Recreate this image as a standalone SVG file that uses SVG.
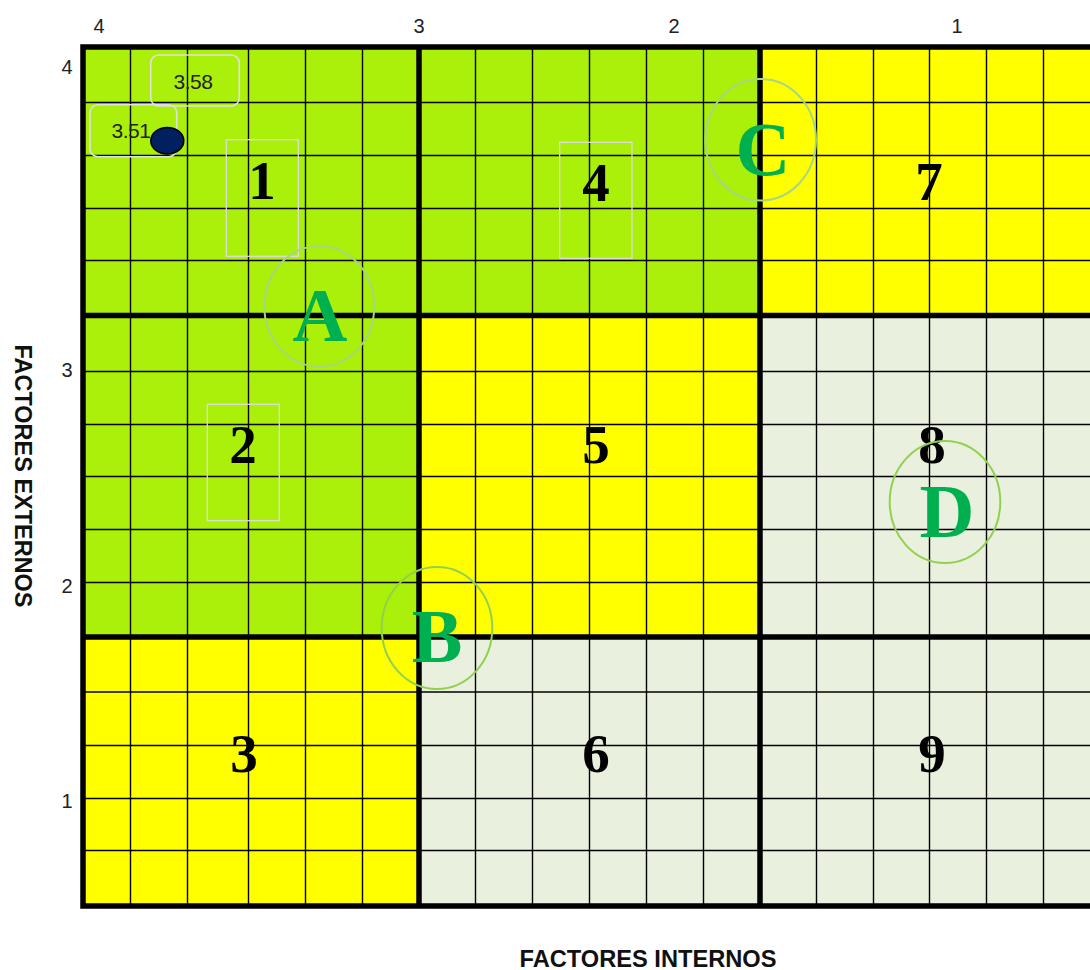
<svg xmlns="http://www.w3.org/2000/svg" width="1090" height="970" viewBox="0 0 1090 970">
<style>
.g{fill:#aaf00a}.y{fill:#ffff00}.e{fill:#e9f0dd}
.thin{stroke:#000;stroke-width:1.4;fill:none}
.thick{stroke:#000;stroke-width:5.5;fill:none}
.num{font-family:"Liberation Serif","Times New Roman",serif;font-weight:bold;font-size:55px;fill:#000;text-anchor:middle}
.let{font-family:"Liberation Serif","Times New Roman",serif;font-weight:bold;font-size:76px;fill:#00b050;text-anchor:middle}
.ring{fill:none;stroke:#92d050;stroke-width:2}
.ring2{fill:none;stroke:#a6d683;stroke-width:2}
.tick{font-family:"Liberation Sans",Arial,sans-serif;font-size:20px;fill:#222;text-anchor:middle}
.axis{font-family:"Liberation Sans",Arial,sans-serif;font-weight:bold;font-size:23px;fill:#111;text-anchor:middle}
.val{font-family:"Liberation Sans",Arial,sans-serif;font-size:21px;fill:#222;text-anchor:middle;letter-spacing:-0.5px}
.box{fill:none;stroke:#e0e0e0;stroke-width:1.6}
.tb{fill:none;stroke:#dcdcdc;stroke-width:1.3}
</style>
<rect width="1090" height="970" fill="#fff"/>
<g id="cells">
<rect class="g" x="83" y="47" width="677" height="268.5"/>
<rect class="g" x="83" y="315.5" width="336" height="321.5"/>
<rect class="y" x="760" y="47" width="340" height="268.5"/>
<rect class="y" x="419" y="315.5" width="341" height="321.5"/>
<rect class="y" x="83" y="637" width="336" height="269"/>
<rect class="e" x="760" y="315.5" width="340" height="321.5"/>
<rect class="e" x="419" y="637" width="681" height="269"/>
</g>
<g id="grid">
<path class="thin" d="M130.5 47V906M187.5 47V906M248.5 47V906M305.5 47V906M362.5 47V906M475.5 47V906M532.5 47V906M589.5 47V906M646.5 47V906M703.5 47V906M816.5 47V906M873.5 47V906M929.5 47V906M986.5 47V906M1043.5 47V906"/>
<path class="thin" d="M83 102.5H1100M83 155.5H1100M83 208.5H1100M83 260.5H1100M83 371.5H1100M83 424.5H1100M83 476.5H1100M83 529.5H1100M83 582.5H1100M83 692H1100M83 745.5H1100M83 798.5H1100M83 850.5H1100"/>
<path class="thick" d="M83 44.3V908.7M419 47V906M760 47V906M80.3 47H1100M83 315.5H1100M83 637H1100M80.3 906H1100"/>
</g>
<g id="axis-labels">
<text class="tick" x="99" y="33">4</text>
<text class="tick" x="419" y="33">3</text>
<text class="tick" x="674" y="33">2</text>
<text class="tick" x="957" y="33">1</text>
<text class="tick" x="67" y="74">4</text>
<text class="tick" x="67" y="377">3</text>
<text class="tick" x="67" y="593">2</text>
<text class="tick" x="67" y="808">1</text>
<text class="axis" transform="translate(15,476) rotate(90)" textLength="263" lengthAdjust="spacingAndGlyphs">FACTORES EXTERNOS</text>
<text class="axis" x="648" y="967" textLength="257" lengthAdjust="spacingAndGlyphs">FACTORES INTERNOS</text>
</g>
<g id="cell-1"><rect class="tb" x="226.3" y="139.7" width="72" height="116.6"/><text class="num" x="262" y="199">1</text></g>
<g id="cell-2"><rect class="tb" x="207.3" y="404.3" width="72" height="116.4"/><text class="num" x="243" y="463">2</text></g>
<g id="cell-3"><text class="num" x="244" y="772">3</text></g>
<g id="cell-4"><rect class="tb" x="559.7" y="142.3" width="72.3" height="116"/><text class="num" x="596" y="201">4</text></g>
<g id="cell-5"><text class="num" x="596" y="463">5</text></g>
<g id="cell-6"><text class="num" x="596" y="772">6</text></g>
<g id="cell-7"><text class="num" x="929" y="200">7</text></g>
<g id="cell-8"><text class="num" x="932" y="463">8</text></g>
<g id="cell-9"><text class="num" x="932" y="772">9</text></g>
<g id="strategy-A"><ellipse class="ring2" cx="319.3" cy="306.3" rx="55" ry="60.3"/><text class="let" x="320" y="341">A</text></g>
<g id="strategy-B"><ellipse class="ring" cx="437" cy="628" rx="55.3" ry="61"/><text class="let" x="437" y="662">B</text></g>
<g id="strategy-C"><ellipse class="ring2" cx="760.7" cy="139.8" rx="55.3" ry="60.8"/><text class="let" x="763" y="175">C</text></g>
<g id="strategy-D"><ellipse class="ring" cx="945" cy="502" rx="55.3" ry="61"/><text class="let" x="947" y="537">D</text></g>
<g id="value-358"><rect class="box" x="150.7" y="55" width="88.6" height="51" rx="8"/><text class="val" x="193" y="89">3.58</text></g>
<g id="value-351"><rect class="box" x="90" y="104.7" width="86.7" height="52" rx="8"/><text class="val" x="131" y="138">3.51</text></g>
<g id="point"><ellipse cx="167.3" cy="140.7" rx="16.5" ry="13.3" fill="#002060" stroke="#000" stroke-width="1.5"/></g>
<g id="connectors"/>
</svg>
